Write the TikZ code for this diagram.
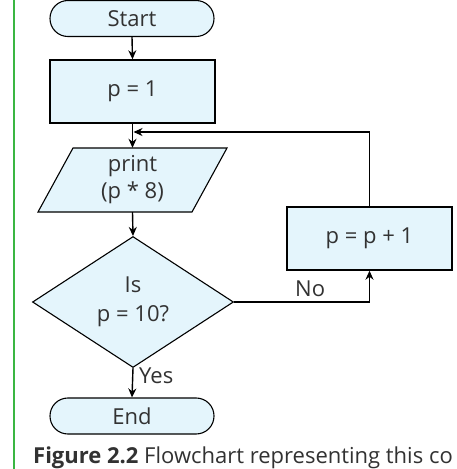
\documentclass[tikz,border=0pt]{standalone}
\usepackage{fontspec}
\setmainfont{Open Sans}
\usetikzlibrary{shapes.geometric,arrows.meta}
\definecolor{fillblue}{RGB}{228,245,252}
\definecolor{bargreen}{RGB}{58,182,66}
\definecolor{txt}{RGB}{50,50,50}
\tikzset{
  nodefont/.style={font=\fontsize{22}{28}\selectfont},
  box/.style={draw=black, fill=fillblue, line width=1.4pt, minimum width=165pt, minimum height=63pt, inner sep=0pt, text=txt, nodefont},
  term/.style={draw=black, fill=fillblue, line width=1.1pt, minimum width=164pt, minimum height=36pt, rounded corners=17.9pt, inner sep=0pt, text=txt, nodefont},
  dec/.style={diamond, draw=black, fill=fillblue, line width=1.1pt, minimum width=201pt, minimum height=131pt, inner sep=0pt, text=txt, align=center, font=\fontsize{22}{29}\selectfont},
  iotext/.style={minimum width=189pt, minimum height=64pt, inner sep=0pt, text=txt, align=center, font=\fontsize{22}{27}\selectfont},
  arr/.style={draw=black, line width=1.4pt, -{Stealth[length=9pt,width=8pt]}},
  lbl/.style={text=txt, nodefont, inner sep=0pt}
}
\begin{document}
\begin{tikzpicture}[x=1pt,y=-1pt]
\useasboundingbox (0,0) rectangle (456,469);
\fill[white] (0,0) rectangle (456,469);
\fill[bargreen] (12.8,0) rectangle (15.2,469);
% nodes
\node[term] (start) at (132,18.5) {Start};
\node[box] (p1) at (132.5,91.5) {p = 1};
\draw[fill=fillblue, line width=1.1pt] (73,148) -- (227,148) -- (192,212) -- (38,212) -- cycle;
\node[iotext] (prt) at (132.5,180) {print\\(p * 8)};
\node[dec] (dia) at (133,302) {Is\\p = 10?};
\node[term] (end) at (132,416) {End};
\node[box] (inc) at (369.5,238.5) {p = p + 1};
\coordinate (join) at (133.5,132);
\coordinate (nopos) at (295,296);
\coordinate (yespos) at (139,383);
% connectors
\draw[arr] (start.south) -- (p1.north);
\draw[arr] (p1.south) -- (prt.north);
\draw[arr] (prt.south) -- (dia.north);
\draw[arr] (dia.south) -- (end.north);
\draw[arr] (dia.east) -| (inc.south);
\draw[arr] (inc.north) |- (join);
\node[lbl, anchor=base west] (nolbl) at (nopos) {No};
\node[lbl, anchor=base west] (yeslbl) at (yespos) {Yes};
% caption
\node[anchor=base west, inner sep=0pt, text=txt, font=\fontsize{22}{26}\selectfont] (cap) at (33,463) {\textbf{Figure 2.2} Flowchart representing this co};
\end{tikzpicture}
\end{document}
